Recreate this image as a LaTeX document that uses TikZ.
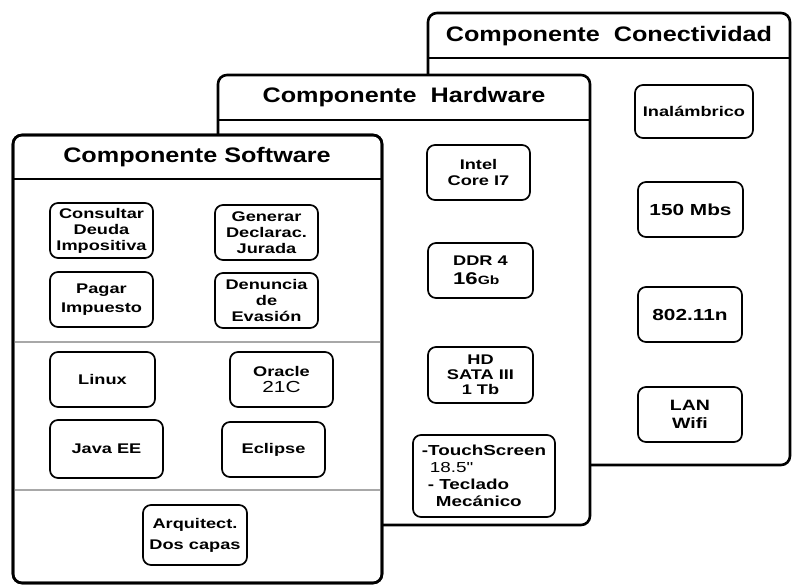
\documentclass[tikz,border=0pt]{standalone}
\usepackage{fontspec}
\newfontfamily\cardfont[FakeStretch=1.3]{Liberation Sans}
\newfontfamily\headfont[FakeStretch=1.2]{Liberation Sans}
\usepackage{tikz}
\definecolor{rule}{HTML}{A8A8A8}

\begin{document}
\begin{tikzpicture}[x=1pt, y=-1pt,
  panel/.style={draw=black, fill=white, line width=2.6pt, rounded corners=9pt},
  headline/.style={draw=black, line width=2.6pt},
  head/.style={font=\headfont\bfseries\fontsize{21}{24}\selectfont, inner sep=0pt},
  item/.style={draw=black, fill=white, line width=1.7pt, rounded corners=8pt,
               align=center, inner sep=1pt, minimum width=103pt, minimum height=55pt,
               font=\cardfont\bfseries\fontsize{14}{16}\selectfont},
  sep/.style={draw=rule, line width=1.4pt}
]
  \useasboundingbox (0,0) rectangle (792,585);

  % Conectividad
  \draw[panel] (428,13) rectangle (790,465);
  \draw[headline] (428,58) -- (790,58);
  \node[head] (tconect) at (609,36) {Componente\ \ Conectividad};

  \node[item, minimum width=118pt, minimum height=53pt] (inalam) at (694,111.5) {Inalámbrico};
  \node[item, font=\cardfont\bfseries\fontsize{16}{18}\selectfont, minimum width=105pt] (mbs) at (690.5,209.5) {150 Mbs};
  \node[item, font=\cardfont\bfseries\fontsize{16}{18}\selectfont, minimum width=104pt] (ieee) at (690,314.5) {802.11n};
  \node[item, font=\cardfont\bfseries\fontsize{15}{18}\selectfont, minimum width=104pt] (lan) at (690,414.5) {LAN\\Wifi};

  % Hardware
  \draw[panel] (218,75) rectangle (590,525);
  \draw[headline] (218,120) -- (590,120);
  \node[head] (thard) at (404,97) {Componente\ \ Hardware};

  \node[item] (intel) at (478.5,172.5) {Intel\\Core I7};
  \node[item, align=left, minimum width=105pt] (ddr) at (480.5,270.5)
    {DDR 4\\[3pt]{\fontsize{17}{17}\selectfont 16}{\fontsize{12}{12}\selectfont Gb}};
  \node[item, minimum width=105pt, minimum height=56pt, font=\cardfont\bfseries\fontsize{14}{15}\selectfont] (hd) at (480.5,375)
    {HD\\SATA III\\1 Tb};
  \node[item, align=left, minimum width=142pt, minimum height=82pt, font=\cardfont\bfseries\fontsize{14.5}{17}\selectfont] (touch) at (484,476)
    {-TouchScreen\\\hspace*{8pt}{\mdseries 18.5\symbol{34}}\\\hspace*{6pt}- Teclado\\\hspace*{14pt}Mecánico};

  % Software
  \draw[panel] (13,135) rectangle (382,583);
  \draw[sep] (14.3,342) -- (380.7,342);
  \draw[sep] (14.3,490) -- (380.7,490);
  \draw[panel, fill=none] (13,135) rectangle (382,583);
  \draw[headline] (13,179) -- (382,179);
  \node[head] (tsoft) at (197,157) {Componente Software};

  \node[item] (consultar) at (101.5,230.5) {Consultar\\Deuda\\Impositiva};
  \node[item] (generar) at (266.5,232.5) {Generar\\Declarac.\\Jurada};
  \node[item] (pagar) at (101.5,299.5) {Pagar\\[3pt]Impuesto};
  \node[item] (denuncia) at (266.5,300.5) {Denuncia\\de\\Evasión};
  \node[item, minimum width=105pt] (linux) at (102.5,379.5) {Linux};
  \node[item] (oracle) at (281.5,379.5)
    {Oracle\\{\mdseries\fontsize{16}{17}\selectfont 21C}};
  \node[item, minimum width=113pt, minimum height=58pt] (javaee) at (106.5,449) {Java EE};
  \node[item] (eclipse) at (273.5,449.5) {Eclipse};
  \node[item, minimum width=104pt, minimum height=60pt] (arquitect) at (195,535)
    {Arquitect.\\[5pt]Dos capas};
\end{tikzpicture}
\end{document}
